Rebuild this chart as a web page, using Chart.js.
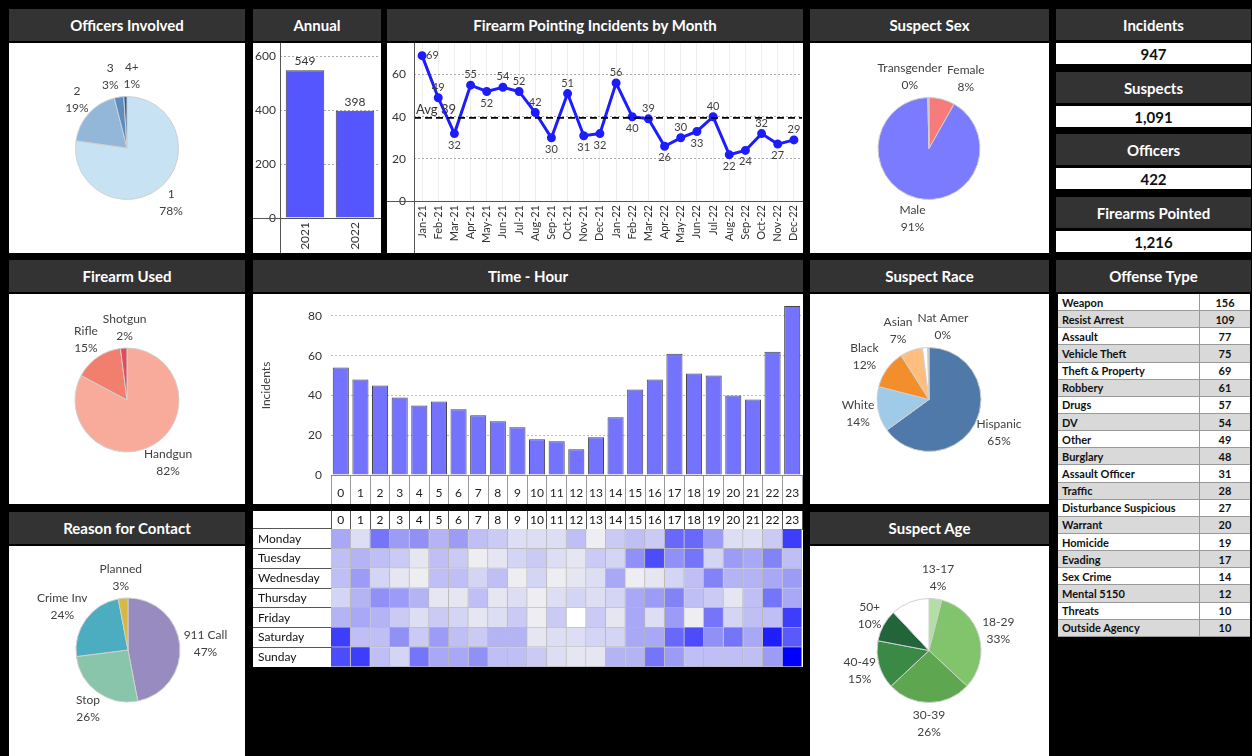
<!DOCTYPE html>
<html lang="en">
<head>
<meta charset="UTF-8">
<title>Firearm Pointing Dashboard</title>
<script src="https://cdn.jsdelivr.net/npm/chart.js"></script>
<style>
  body { margin: 0; background: #000; width: 1252px; height: 756px; overflow: hidden;
         font-family: Lato, "Open Sans", sans-serif; position: relative; }
  .hdr { position: absolute; height: 32px; background: #333; color: #fff; font-weight: bold;
         font-size: 15px; display: flex; align-items: center; justify-content: center; }
  .box { position: absolute; background: #fff; overflow: hidden; }
  .box canvas { position: absolute; left: 0; top: 0; }
  .kpi { position: absolute; background: #fff; font-weight: bold; font-size: 15px; color: #111;
         display: flex; align-items: center; justify-content: center; }
  #offense { position: absolute; left: 1058px; top: 294px; width: 192px; }
  .row { display: flex; height: 17.15px; box-sizing: border-box; border-bottom: 1px solid #999;
         font-size: 11px; font-weight: bold; color: #111; align-items: center; }
  .row .n { width: 142px; padding-left: 4px; box-sizing: border-box; border-right: 1px solid #999; height: 100%; display: flex; align-items: center; }
  .row .v { width: 50px; text-align: center; }
  .row:nth-child(odd) { background: #fff; }
  .row:nth-child(even) { background: #d9d9d9; }
</style>
</head>
<body>
<script>
// ---- data ----
const months = ['Jan-21','Feb-21','Mar-21','Apr-21','May-21','Jun-21','Jul-21','Aug-21','Sep-21','Oct-21','Nov-21','Dec-21',
                'Jan-22','Feb-22','Mar-22','Apr-22','May-22','Jun-22','Jul-22','Aug-22','Sep-22','Oct-22','Nov-22','Dec-22'];
const monthlyIncidents = [69,49,32,55,52,54,52,42,30,51,31,32,56,40,39,26,30,33,40,22,24,32,27,29];

const years = ['2021','2022'];
const annualIncidents = [549, 398];

const hours = ['0','1','2','3','4','5','6','7','8','9','10','11','12','13','14','15','16','17','18','19','20','21','22','23'];
const hourIncidents = [54,48,45,39,35,37,33,30,27,24,18,17,13,19,29,43,48,61,51,50,40,38,62,85];

const days = ['Monday','Tuesday','Wednesday','Thursday','Friday','Saturday','Sunday'];
const heatByDay = [
  [8,3,12,9,10,7,9,6,5,3,3,3,6,1,5,6,5,13,13,9,3,3,5,16],
  [6,7,6,5,2,6,5,1,2,4,5,3,2,5,4,10,15,10,12,4,9,8,11,6],
  [6,9,4,2,1,6,6,4,6,1,4,1,2,3,8,1,2,4,6,11,7,7,8,9],
  [4,7,10,9,7,2,2,6,2,3,1,3,4,3,4,8,9,11,6,5,2,6,12,8],
  [7,8,7,5,3,5,4,2,3,5,1,5,0,5,2,8,3,9,1,12,4,6,6,16],
  [16,6,6,10,5,9,6,5,7,7,2,3,3,4,4,8,8,13,15,10,12,8,18,14],
  [15,16,6,4,12,8,8,10,6,6,5,3,2,2,7,7,12,9,6,6,6,6,9,20]
];

const officerLabels = ['1','2','3','4+'];
const officerPct = [78,19,3,1];
const firearmLabels = ['Handgun','Rifle','Shotgun'];
const firearmPct = [82,15,2];
const reasonLabels = ['911 Call','Stop','Crime Inv','Planned'];
const reasonPct = [47,26,24,3];
const sexLabels = ['Female','Male','Transgender'];
const sexPct = [8.2,91.4,0.4];
const raceLabels = ['Hispanic','White','Black','Asian','Unknown','Nat Amer'];
const racePct = [65,14,12,7,1.6,0.4];
const ageLabels = ['13-17','18-29','30-39','40-49','50+','Unknown'];
const agePct = [4,33,26,15,10,12];

const kpiNames = ['Incidents','Suspects','Officers','Firearms Pointed'];
const kpiValues = ['947','1,091','422','1,216'];

const offenseTypes = ['Weapon','Resist Arrest','Assault','Vehicle Theft','Theft & Property','Robbery','Drugs','DV','Other',
  'Burglary','Assault Officer','Traffic','Disturbance Suspicious','Warrant','Homicide','Evading','Sex Crime','Mental 5150','Threats','Outside Agency'];
const offenseCounts = [156,109,77,75,69,61,57,54,49,48,31,28,27,20,19,17,14,12,10,10];

// ---- layout helpers ----
function addHeader(text, x, y, w, h) {
  const d = document.createElement('div');
  d.className = 'hdr';
  d.style.cssText = `left:${x}px;top:${y}px;width:${w}px;` + (h ? `height:${h}px;` : '');
  d.textContent = text;
  document.body.appendChild(d);
}
function addCanvas(x, y, w, h) {
  const d = document.createElement('div');
  d.className = 'box';
  d.style.cssText = `left:${x}px;top:${y}px;width:${w}px;height:${h}px;`;
  const c = document.createElement('canvas');
  c.width = w; c.height = h;
  d.appendChild(c);
  document.body.appendChild(d);
  return c;
}

[['Officers Involved',9,9,236],['Annual',253,9,128],['Firearm Pointing Incidents by Month',387,9,416],['Suspect Sex',810,9,239],
 ['Firearm Used',9,260,236],['Time - Hour',253,260,550],['Suspect Race',810,260,239],['Offense Type',1056,260,195],
 ['Reason for Contact',9,512,236],['Suspect Age',810,512,239]].forEach(h => addHeader(...h));

const kpiTops = [9, 72, 134, 197];
kpiNames.forEach((name, i) => {
  addHeader(name, 1056, kpiTops[i], 195, 31);
  const v = document.createElement('div');
  v.className = 'kpi';
  v.style.cssText = `left:1056px;top:${kpiTops[i] + 34}px;width:195px;height:21px;`;
  v.textContent = kpiValues[i];
  document.body.appendChild(v);
});

const tbl = document.createElement('div');
tbl.id = 'offense';
offenseTypes.forEach((t, i) => {
  const r = document.createElement('div');
  r.className = 'row';
  r.innerHTML = `<div class="n">${t.replace('&', '&amp;')}</div><div class="v">${offenseCounts[i]}</div>`;
  tbl.appendChild(r);
});
document.body.appendChild(tbl);

// ---- chart defaults ----
Chart.defaults.font.family = 'Lato, "Open Sans", sans-serif';
Chart.defaults.font.size = 12;
Chart.defaults.color = '#404040';
Chart.defaults.animation = false;
Chart.defaults.plugins.legend.display = false;
Chart.defaults.plugins.tooltip.enabled = false;

// outside labels for the pies: name + percent, pushed apart when they collide
const pieLabels = {
  id: 'pieLabels',
  afterDatasetsDraw(chart, args, opts) {
    const ctx = chart.ctx;
    const ds = chart.data.datasets[0];
    const meta = chart.getDatasetMeta(0);
    ctx.save();
    ctx.font = '12px Lato, "Open Sans", sans-serif';
    const boxes = [];
    meta.data.forEach((arc, i) => {
      const name = chart.data.labels[i];
      if ((opts.skip || []).includes(name)) return;
      const mid = (arc.startAngle + arc.endAngle) / 2;
      const dx = Math.cos(mid), dy = Math.sin(mid);
      const pct = Math.round(ds.data[i]) + '%';
      const w = Math.max(ctx.measureText(name).width, ctx.measureText(pct).width);
      const h = 34, gap = 4;
      boxes.push({ name, pct, w, h,
        x: arc.x + dx * (arc.outerRadius + gap) + dx * w / 2,
        y: arc.y + dy * (arc.outerRadius + gap) + dy * h / 2 });
    });
    for (let it = 0; it < 30; it++) {
      for (let a = 0; a < boxes.length; a++) {
        for (let b = a + 1; b < boxes.length; b++) {
          const A = boxes[a], B = boxes[b];
          const ox = (A.w + B.w) / 2 + 5 - Math.abs(A.x - B.x);
          const oy = (A.h + B.h) / 2 - Math.abs(A.y - B.y);
          if (ox > 0 && oy > 0) {
            const s = A.x <= B.x ? -1 : 1;
            A.x += s * ox / 2; B.x -= s * ox / 2;
          }
        }
      }
    }
    ctx.fillStyle = '#404040';
    ctx.textAlign = 'center';
    ctx.textBaseline = 'middle';
    boxes.forEach(bx => {
      ctx.fillText(bx.name, bx.x, bx.y - 8.5);
      ctx.fillText(bx.pct, bx.x, bx.y + 8.5);
    });
    ctx.restore();
  }
};

function makePie(bx, by, cx, cy, r, labels, values, colors, skip) {
  const W = bx < 800 ? 236 : 239, H = 210;
  const c = addCanvas(bx, by, W, H);
  new Chart(c, {
    type: 'pie',
    data: { labels, datasets: [{ data: values, backgroundColor: colors, borderColor: '#d0d0d0', borderWidth: 1 }] },
    options: {
      responsive: false,
      layout: { padding: { left: cx - bx - r, right: bx + W - cx - r, top: cy - by - r, bottom: by + H - cy - r } },
      plugins: { pieLabels: { skip: skip || [] } }
    },
    plugins: [pieLabels]
  });
}

makePie(9, 43, 127, 148, 52, officerLabels, officerPct, ['#c6e2f3','#92b7d9','#5c8cc0','#2f5d8f']);
makePie(9, 294, 127, 400, 52.5, firearmLabels, firearmPct, ['#f9ab9b','#f27f6e','#e04c5c']);
makePie(9, 546, 128, 650, 52.5, reasonLabels, reasonPct, ['#978bbf','#88c5aa','#4badbf','#d6b843']);
makePie(810, 43, 929, 148.5, 51.5, sexLabels, sexPct, ['#f67b7b','#7b7bff','#c0c0c0']);
makePie(810, 294, 929, 399.5, 52.5, raceLabels, racePct, ['#4e79a8','#a0cbe8','#f28e2b','#ffbe7d','#ffffff','#c0c0c0'], ['Unknown']);
makePie(810, 546, 929, 650.5, 52.5, ageLabels, agePct, ['#b3dfa5','#82c46c','#5ea650','#3a8a45','#23653a','#ffffff'], ['Unknown']);

// axis lines that run through the label areas
const axisLines = {
  id: 'axisLines',
  afterDraw(chart) {
    const { ctx, chartArea: a } = chart;
    ctx.save();
    ctx.strokeStyle = '#555';
    ctx.lineWidth = 1;
    ctx.beginPath();
    ctx.moveTo(Math.round(a.left) + 0.5, 0);
    ctx.lineTo(Math.round(a.left) + 0.5, chart.height);
    ctx.moveTo(0, Math.round(a.bottom) + 0.5);
    ctx.lineTo(chart.width, Math.round(a.bottom) + 0.5);
    ctx.stroke();
    ctx.restore();
  }
};

// fixed tick steps and no extra label padding around the value axis
function stepTicks(step) {
  return s => {
    const out = [];
    for (let v = s.min; v <= s.max; v += step) out.push({ value: v });
    s.ticks = out;
  };
}
function fixWidth(w) {
  return s => { s.width = w; s.paddingTop = 0; s.paddingBottom = 0; };
}
function fixHeight(h) {
  return s => { s.height = h; s.paddingLeft = 0; s.paddingRight = 0; };
}

// ---- Annual ----
const annualLabels = {
  id: 'annualLabels',
  afterDatasetsDraw(chart) {
    const ctx = chart.ctx;
    const ds = chart.data.datasets[0];
    ctx.save();
    ctx.font = '12px Lato, "Open Sans", sans-serif';
    ctx.fillStyle = '#333';
    ctx.textAlign = 'center';
    ctx.textBaseline = 'bottom';
    chart.getDatasetMeta(0).data.forEach((bar, i) => ctx.fillText(ds.data[i], bar.x, bar.y - 3));
    ctx.restore();
  }
};
new Chart(addCanvas(253, 43, 128, 210), {
  type: 'bar',
  data: { labels: years, datasets: [{ data: annualIncidents, backgroundColor: '#5656ff', borderColor: '#444', borderWidth: 1,
          categoryPercentage: 1, barPercentage: 0.77 }] },
  options: {
    responsive: false,
    layout: { padding: { right: 1 } },
    scales: {
      x: { grid: { display: false, drawTicks: false }, border: { display: false },
           ticks: { minRotation: 90, maxRotation: 90, color: '#333', padding: 4, autoSkip: false },
           afterFit: fixHeight(35) },
      y: { min: 0, max: 650, ticks: { padding: 4, color: '#333' },
           afterBuildTicks: stepTicks(200),
           grid: { color: '#aaa', drawTicks: false }, border: { display: false, dash: [2, 2] },
           afterFit: fixWidth(27) }
    }
  },
  plugins: [annualLabels, axisLines]
});

// ---- Monthly ----
const avgMonthly = monthlyIncidents.reduce((a, b) => a + b, 0) / monthlyIncidents.length;
const monthExtras = {
  id: 'monthExtras',
  afterDatasetsDraw(chart) {
    const { ctx, chartArea: a, scales } = chart;
    const y = scales.y.getPixelForValue(avgMonthly);
    ctx.save();
    ctx.strokeStyle = '#000';
    ctx.lineWidth = 1.6;
    ctx.setLineDash([7, 4]);
    ctx.beginPath();
    ctx.moveTo(a.left, y); ctx.lineTo(a.right, y);
    ctx.stroke();
    ctx.setLineDash([]);
    ctx.font = '13px Lato, "Open Sans", sans-serif';
    ctx.fillStyle = '#333';
    ctx.textBaseline = 'bottom';
    ctx.fillText('Avg ' + Math.round(avgMonthly), a.left + 2, y - 2);
    // point labels
    const data = chart.data.datasets[0].data;
    ctx.font = '11px Lato, "Open Sans", sans-serif';
    ctx.fillStyle = '#404040';
    chart.getDatasetMeta(0).data.forEach((pt, i) => {
      const v = data[i];
      if (i === 0) {
        ctx.textAlign = 'left'; ctx.textBaseline = 'middle';
        ctx.fillText(v, pt.x + 4, pt.y);
        return;
      }
      const ref = i === data.length - 1 ? data[i - 1] : (data[i - 1] + data[i + 1]) / 2;
      ctx.textAlign = 'center';
      if (v >= ref - 1.5) { ctx.textBaseline = 'bottom'; ctx.fillText(v, pt.x, pt.y - 5); }
      else { ctx.textBaseline = 'top'; ctx.fillText(v, pt.x, pt.y + 6); }
    });
    ctx.restore();
  }
};
new Chart(addCanvas(387, 43, 416, 210), {
  type: 'line',
  data: { labels: months, datasets: [{ data: monthlyIncidents, borderColor: '#1c1cff', backgroundColor: '#1c1cff',
          borderWidth: 3, pointRadius: 3, tension: 0, clip: false }] },
  options: {
    responsive: false,
    layout: { autoPadding: false, padding: { right: 1 } },
    scales: {
      x: { offset: true, grid: { color: '#eeeeee', drawTicks: false, offset: false }, border: { display: false },
           ticks: { minRotation: 90, maxRotation: 90, color: '#333', font: { size: 11 }, padding: 4, autoSkip: false },
           afterFit: fixHeight(52) },
      y: { min: 0, max: 75, ticks: { padding: 8, color: '#333' },
           afterBuildTicks: stepTicks(20),
           grid: { color: '#aaa', drawTicks: false }, border: { display: false, dash: [2, 2] },
           afterFit: fixWidth(27) }
    }
  },
  plugins: [monthExtras, axisLines]
});

// ---- Time - Hour ----
new Chart(addCanvas(253, 294, 550, 210), {
  type: 'bar',
  data: { labels: hours, datasets: [{ data: hourIncidents, backgroundColor: '#7373ff', borderColor: '#444', borderWidth: 1,
          categoryPercentage: 0.82, barPercentage: 1 }] },
  options: {
    responsive: false,
    layout: { padding: { top: 2, right: 1, left: 6 } },
    scales: {
      x: { grid: { color: '#999', drawOnChartArea: false, tickLength: 29, offset: true },
           border: { color: '#888' },
           ticks: { color: '#222', padding: -18, autoSkip: false, maxRotation: 0 },
           afterFit: fixHeight(29) },
      y: { min: 0, max: 90, ticks: { padding: 9, color: '#333' },
           afterBuildTicks: stepTicks(20),
           title: { display: true, text: 'Incidents', color: '#404040', padding: 0 },
           grid: { color: '#bbb', drawTicks: false }, border: { display: false, dash: [2, 2] },
           afterFit: fixWidth(72) }
    }
  }
});

// ---- Heatmap day x hour ----
const heatMax = Math.max(...heatByDay.flat());
function heatColor(v) {
  if (v === 0) return '#ffffff';
  const t = Math.pow(v / heatMax, 1.3);
  const rg = Math.round(242 * (1 - t));
  const b = Math.round(242 + 13 * t);
  return `rgb(${rg},${rg},${b})`;
}
new Chart(addCanvas(253, 511, 550, 156), {
  type: 'bar',
  data: {
    labels: days,
    datasets: hours.map((h, hi) => ({
      label: h,
      data: days.map(() => 1),
      backgroundColor: days.map((d, di) => heatColor(heatByDay[di][hi])),
      borderColor: '#b8b8b8',
      borderWidth: { top: 0, left: 0, right: 1, bottom: 1 },
      borderSkipped: false,
      categoryPercentage: 1,
      barPercentage: 1
    }))
  },
  options: {
    responsive: false,
    indexAxis: 'y',
    layout: { padding: { left: 5, right: 1 } },
    scales: {
      x: { display: false, stacked: true, min: 0, max: hours.length },
      x2: { type: 'category', labels: hours, position: 'top', offset: true,
            grid: { color: '#555', drawOnChartArea: false, tickLength: 18, offset: true },
            border: { color: '#555' },
            ticks: { color: '#111', padding: -16, autoSkip: false, maxRotation: 0 },
            afterFit: fixHeight(18) },
      y: { stacked: true,
           grid: { color: '#555', drawOnChartArea: false, tickLength: 78, offset: true },
           border: { color: '#555' },
           ticks: { crossAlign: 'far', color: '#111' },
           afterFit: fixWidth(73) }
    }
  }
});
</script>
</body>
</html>
